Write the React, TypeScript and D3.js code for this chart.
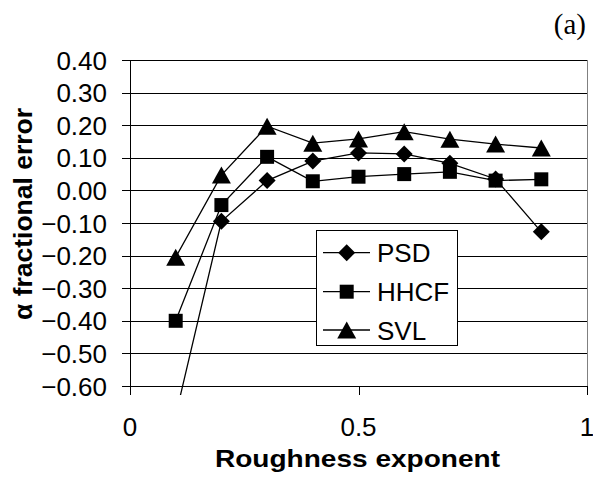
import React from "react";
import * as d3 from "d3";

const roughness = [0.1, 0.2, 0.3, 0.4, 0.5, 0.6, 0.7, 0.8, 0.9];
const psd = [-0.69, -0.095, 0.03, 0.09, 0.115, 0.112, 0.083, 0.035, -0.127];
const hhcf = [-0.4, -0.045, 0.103, 0.028, 0.042, 0.05, 0.057, 0.03, 0.034];
const svl = [-0.205, 0.047, 0.197, 0.145, 0.158, 0.18, 0.157, 0.142, 0.13];
const yTicks = [0.4, 0.3, 0.2, 0.1, 0, -0.1, -0.2, -0.3, -0.4, -0.5, -0.6];
const xTicks = [0, 0.5, 1];
const seriesNames = ["PSD", "HHCF", "SVL"];

const W = 593;
const H = 481;
const left = 130;
const right = 587;
const top = 60;
const bottom = 386;

const x = d3.scaleLinear().domain([0, 1]).range([left, right]);
const y = d3.scaleLinear().domain([-0.6, 0.4]).range([bottom, top]);

function markerPath(kind: string, cx: number, cy: number): string {
  if (kind === "PSD") {
    const r = 8.5;
    return `M${cx},${cy - r}L${cx + r},${cy}L${cx},${cy + r}L${cx - r},${cy}Z`;
  }
  if (kind === "HHCF") {
    const h = 7;
    return `M${cx - h},${cy - h}H${cx + h}V${cy + h}H${cx - h}Z`;
  }
  const w = 9.5;
  const hh = 8.5;
  return `M${cx},${cy - hh}L${cx + w},${cy + hh}L${cx - w},${cy + hh}Z`;
}

const fmt = (v: number) => (Math.abs(v) < 1e-9 ? "0.00" : d3.format(".2f")(v));
const xfmt = (v: number) => (v === 0 ? "0" : v === 1 ? "1" : String(v));

export default function App() {
  const series = [psd, hhcf, svl];
  const line = d3
    .line<number>()
    .x((_, i) => x(roughness[i]))
    .y((d) => y(d));
  const sans = "'Liberation Sans', Arial, sans-serif";
  const legendRows = [252.7, 291.7, 330];
  return (
    <svg
      width={W}
      height={H}
      style={{ position: "absolute", left: 0, top: 0, background: "#fff" }}
    >
      <defs>
        <clipPath id="plotclip">
          <rect x={left - 2} y={top - 10} width={right - left + 4} height={395 - top + 10} />
        </clipPath>
      </defs>
      <rect x={0} y={0} width={W} height={H} fill="#fff" />
      {yTicks.map((t) => (
        <line
          key={"g" + t}
          x1={left - 8}
          x2={right}
          y1={Math.round(y(t)) + 0.5}
          y2={Math.round(y(t)) + 0.5}
          stroke="#000"
          strokeWidth={1}
        />
      ))}
      <line x1={right + 0.5} x2={right + 0.5} y1={top} y2={bottom} stroke="#808080" strokeWidth={1} />
      <line x1={left + 0.5} x2={left + 0.5} y1={top} y2={bottom + 9} stroke="#000" strokeWidth={1} />
      {xTicks.map((t) => (
        <line
          key={"xt" + t}
          x1={Math.round(x(t)) + 0.5}
          x2={Math.round(x(t)) + 0.5}
          y1={bottom}
          y2={bottom + 9}
          stroke="#000"
          strokeWidth={1}
        />
      ))}
      {yTicks.map((t) => (
        <text
          key={"yl" + t}
          x={107}
          y={y(t) + 9.5}
          textAnchor="end"
          fontFamily={sans}
          fontSize={26}
          fill="#000"
        >
          {fmt(t)}
        </text>
      ))}
      {xTicks.map((t) => (
        <text
          key={"xl" + t}
          x={x(t)}
          y={436}
          textAnchor="middle"
          fontFamily={sans}
          fontSize={26}
          fill="#000"
        >
          {xfmt(t)}
        </text>
      ))}
      <g clipPath="url(#plotclip)">
        {series.map((s, si) => (
          <path key={"l" + si} d={line(s) || ""} fill="none" stroke="#000" strokeWidth={1.3} />
        ))}
        {series.map((s, si) =>
          s.map((v, i) => (
            <path
              key={"m" + si + "_" + i}
              d={markerPath(seriesNames[si], x(roughness[i]), y(v))}
              fill="#000"
            />
          ))
        )}
      </g>
      <rect x={316.5} y={230.5} width={141} height={115} fill="#fff" stroke="#000" strokeWidth={1} />
      {seriesNames.map((n, i) => (
        <g key={"lg" + n}>
          <line x1={323} x2={370} y1={legendRows[i]} y2={legendRows[i]} stroke="#000" strokeWidth={1.3} />
          <path d={markerPath(n, 346.7, legendRows[i])} fill="#000" />
          <text x={377} y={legendRows[i] + 9.5} fontFamily={sans} fontSize={26} fill="#000">
            {n}
          </text>
        </g>
      ))}
      <text
        x={215}
        y={466.5}
        fontFamily={sans}
        fontWeight="bold"
        fontSize={24}
        textLength={285}
        lengthAdjust="spacingAndGlyphs"
        fill="#000"
      >
        Roughness exponent
      </text>
      <text
        transform={`translate(32,320) rotate(-90)`}
        fontFamily={sans}
        fontWeight="bold"
        fontSize={25}
        textLength={212}
        lengthAdjust="spacingAndGlyphs"
        fill="#000"
      >
        α fractional error
      </text>
      <text
        x={586}
        y={34}
        textAnchor="end"
        fontFamily="'Liberation Serif', 'Times New Roman', serif"
        fontSize={29}
        fill="#000"
      >
        (a)
      </text>
    </svg>
  );
}
